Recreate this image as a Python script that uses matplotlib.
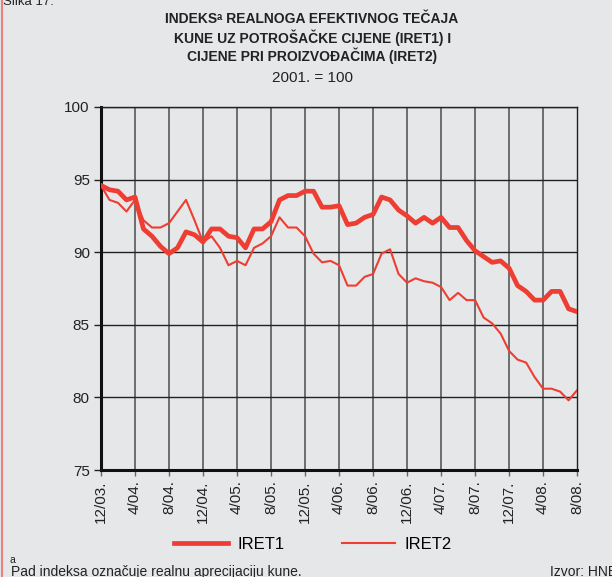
import matplotlib.pyplot as plt
from matplotlib.lines import Line2D

plt.rcParams['font.family'] = ['Liberation Sans', 'DejaVu Sans']

# monthly data, 12/2003 .. 8/2008
months = list(range(57))
iret1 = [94.6, 94.3, 94.2, 93.6, 93.8, 91.6, 91.1, 90.4, 89.9, 90.3,
         91.4, 91.2, 90.7, 91.6, 91.6, 91.1, 91.0, 90.3, 91.6, 91.6,
         92.1, 93.6, 93.9, 93.9, 94.2, 94.2, 93.1, 93.1, 93.2, 91.9,
         92.0, 92.4, 92.6, 93.8, 93.6, 92.9, 92.5, 92.0, 92.4, 92.0,
         92.4, 91.7, 91.7, 90.8, 90.1, 89.7, 89.3, 89.4, 88.9, 87.7,
         87.3, 86.7, 86.7, 87.3, 87.3, 86.1, 85.9]
iret2 = [94.6, 93.6, 93.4, 92.8, 93.6, 92.2, 91.7, 91.7, 92.0, 92.8,
         93.6, 92.2, 90.7, 91.1, 90.3, 89.1, 89.4, 89.1, 90.3, 90.6,
         91.1, 92.4, 91.7, 91.7, 91.1, 89.9, 89.3, 89.4, 89.1, 87.7,
         87.7, 88.3, 88.5, 89.9, 90.2, 88.5, 87.9, 88.2, 88.0, 87.9,
         87.6, 86.7, 87.2, 86.7, 86.7, 85.5, 85.1, 84.4, 83.2, 82.6,
         82.4, 81.4, 80.6, 80.6, 80.4, 79.8, 80.5]
tick_pos = [0, 4, 8, 12, 16, 20, 24, 28, 32, 36, 40, 44, 48, 52, 56]
tick_labels = ['12/03.', '4/04.', '8/04.', '12/04.', '4/05.', '8/05.', '12/05.',
               '4/06.', '8/06.', '12/06.', '4/07.', '8/07.', '12/07.', '4/08.', '8/08.']

bg = '#e6e7e9'
red = '#ee3d33'
txt = '#222222'

fig = plt.figure(figsize=(6.12, 5.77), dpi=100, facecolor=bg)
ax = fig.add_axes([0.165, 0.1854, 0.778, 0.6292], facecolor=bg)

# grid
for p in tick_pos[1:-1]:
    ax.axvline(p, color='#4d4d4d', lw=1.1, zorder=1)
for v in [80, 85, 90, 95, 100]:
    ax.axhline(v, color='#222222', lw=1.0, zorder=1)

ax.plot(months, iret2, color=red, lw=1.5, zorder=3)
ax.plot(months, iret1, color=red, lw=3.4, zorder=4)

ax.set_xlim(0, 56)
ax.set_ylim(75, 100)
ax.set_yticks([75, 80, 85, 90, 95, 100])
ax.set_xticks(tick_pos)
ax.set_xticklabels(tick_labels, rotation=90)
ax.tick_params(axis='y', length=5, width=1, color=txt, labelsize=11,
               labelcolor=txt, pad=3)
ax.tick_params(axis='x', length=4.5, width=1, color='#666666', labelsize=11,
               labelcolor=txt, pad=3)
for s in ['left', 'bottom']:
    ax.spines[s].set_linewidth(2.2)
    ax.spines[s].set_color('#111111')
for s in ['right', 'top']:
    ax.spines[s].set_linewidth(1.0)
    ax.spines[s].set_color('#222222')

# titles
tx = 0.51
fig.text(tx, 0.967, 'INDEKS\u1d43 REALNOGA EFEKTIVNOG TEČAJA', ha='center', va='center',
         fontsize=10, fontweight='bold', color=txt)
fig.text(tx, 0.935, 'KUNE UZ POTROŠAČKE CIJENE (IRET1) I', ha='center', va='center',
         fontsize=10, fontweight='bold', color=txt)
fig.text(tx, 0.903, 'CIJENE PRI PROIZVOĐAČIMA (IRET2)', ha='center', va='center',
         fontsize=10, fontweight='bold', color=txt)
fig.text(tx, 0.865, '2001. = 100', ha='center', va='center', fontsize=11, color=txt)
fig.text(0.005, 0.996, 'Slika 17.', ha='left', va='center', fontsize=9.5, color=txt)

# legend
handles = [Line2D([], [], color=red, lw=3.4), Line2D([], [], color=red, lw=1.5)]
fig.legend(handles, ['IRET1', 'IRET2'], loc='center', bbox_to_anchor=(0.512, 0.057),
           ncol=2, frameon=False, fontsize=12, handlelength=3.2, columnspacing=3.4,
           handletextpad=0.6)

# footnote
fig.text(0.016, 0.03, 'a', fontsize=7.5, color=txt, va='center')
fig.text(0.018, 0.008, 'Pad indeksa označuje realnu aprecijaciju kune.', fontsize=10,
         color=txt, va='center')
fig.text(0.899, 0.008, 'Izvor: HNB', fontsize=10, color=txt, va='center')

# left red frame line
fig.add_artist(Line2D([0.003, 0.003], [0, 1], transform=fig.transFigure,
                      color='#e8837b', lw=1.5))

fig.savefig('out.png', dpi=100, facecolor=bg)
